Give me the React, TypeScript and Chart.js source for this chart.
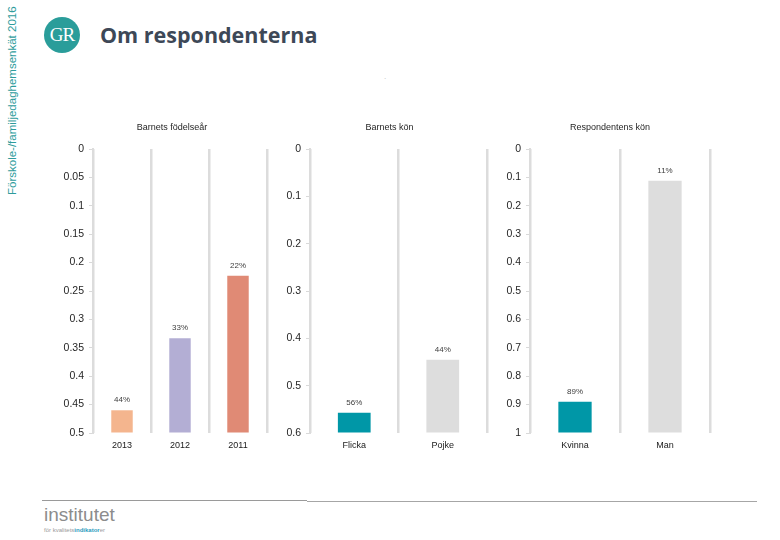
import React, { useEffect, useRef } from "react";
import { Chart, registerables } from "chart.js";

Chart.register(...registerables);

// ---- Data ----
const birthYearCategories = ["2013", "2012", "2011"];
const birthYearValues = [0.46, 0.333, 0.223];
const birthYearLabels = ["44%", "33%", "22%"];
const birthYearColors = ["#F4B58E", "#B3AED4", "#E08A75"];
const birthYearAxis = [0, 0.5, 0.05]; // min, max, step

const childGenderCategories = ["Flicka", "Pojke"];
const childGenderValues = [0.557, 0.445];
const childGenderLabels = ["56%", "44%"];
const childGenderColors = ["#0097A7", "#DDDDDD"];
const childGenderAxis = [0, 0.6, 0.1];

const respGenderCategories = ["Kvinna", "Man"];
const respGenderValues = [0.89, 0.112];
const respGenderLabels = ["89%", "11%"];
const respGenderColors = ["#0097A7", "#DDDDDD"];
const respGenderAxis = [0, 1, 0.1];

const FONT = "'Liberation Sans', Arial, sans-serif";

type PanelProps = {
  title: string;
  categories: string[];
  values: number[];
  labels: string[];
  colors: string[];
  axis: number[];
  left: number;
  top: number;
  width: number;
  height: number;
  axisWidth: number;
  padRight: number;
  titleShift: number;
};

const CHART_TOP = 41;
const CHART_BOTTOM = 325;

function Panel(p: PanelProps) {
  const ref = useRef<HTMLCanvasElement | null>(null);
  useEffect(() => {
    if (!ref.current) return;
    const [min, max, step] = p.axis;
    const labelPlugin = {
      id: "barLabels",
      afterDatasetsDraw(chart: any) {
        const ctx = chart.ctx;
        const meta = chart.getDatasetMeta(0);
        ctx.save();
        ctx.font = `8px ${FONT}`;
        ctx.fillStyle = "#404040";
        ctx.textAlign = "center";
        ctx.textBaseline = "bottom";
        meta.data.forEach((el: any, i: number) => {
          const topY = Math.min(el.y, el.base);
          ctx.fillText(p.labels[i], el.x, topY - 6);
        });
        ctx.restore();
      },
    };
    const titlePlugin = {
      id: "panelTitle",
      afterDraw(chart: any) {
        const ctx = chart.ctx;
        const a = chart.chartArea;
        ctx.save();
        ctx.font = `9px ${FONT}`;
        ctx.fillStyle = "#262626";
        ctx.textAlign = "center";
        ctx.textBaseline = "middle";
        ctx.fillText(p.title, (a.left + a.right) / 2 + p.titleShift, 20);
        ctx.restore();
      },
    };
    const chart = new Chart(ref.current, {
      type: "bar",
      data: {
        labels: p.categories,
        datasets: [
          {
            data: p.values,
            backgroundColor: p.colors,
            base: max,
            barPercentage: 0.37,
            categoryPercentage: 1,
          } as any,
        ],
      },
      options: {
        animation: false,
        responsive: false,
        devicePixelRatio: 1,
        layout: { padding: { top: CHART_TOP, right: p.padRight, left: 0, bottom: 0 } },
        plugins: {
          legend: { display: false },
          tooltip: { enabled: false },
          title: { display: false },
        },
        scales: {
          x: {
            grid: {
              display: true,
              offset: true,
              drawTicks: false,
              color: "#DCDCDC",
              lineWidth: 2.5,
            },
            border: { display: false },
            ticks: {
              padding: 7,
              color: "#1A1A1A",
              font: { size: 9, family: FONT },
              maxRotation: 0,
            },
            afterFit: (s: any) => {
              s.height = p.height - CHART_BOTTOM;
            },
          },
          y: {
            reverse: true,
            min,
            max,
            ticks: {
              stepSize: step,
              padding: 5,
              color: "#262626",
              font: { size: 10.5, family: FONT },
              callback: (v: any) => String(Number(Number(v).toFixed(2))),
            },
            grid: {
              drawOnChartArea: false,
              drawTicks: true,
              tickLength: 4,
              color: "#D9D9D9",
              lineWidth: 1,
            },
            border: { display: true, color: "#DCDCDC", width: 2 },
            afterFit: (s: any) => {
              s.width = p.axisWidth;
            },
          },
        },
      },
      plugins: [labelPlugin, titlePlugin],
    } as any);
    return () => chart.destroy();
  }, []);
  return (
    <canvas
      ref={ref}
      width={p.width}
      height={p.height}
      style={{ position: "absolute", left: p.left, top: p.top, width: p.width, height: p.height }}
    />
  );
}

export default function App() {
  return (
    <div
      style={{
        position: "absolute",
        left: 0,
        top: 0,
        width: 780,
        height: 540,
        background: "#FFFFFF",
        overflow: "hidden",
        fontFamily: FONT,
      }}
    >
      {/* rotated side text */}
      <div
        style={{
          position: "absolute",
          left: 5,
          top: 195,
          transform: "rotate(-90deg)",
          transformOrigin: "left top",
          whiteSpace: "nowrap",
          fontSize: 11.5,
          lineHeight: "14px",
          color: "#2E9C9C",
          fontFamily: FONT,
        }}
      >
        Förskole-/familjedaghemsenkät 2016
      </div>
      {/* logo */}
      <div
        style={{
          position: "absolute",
          left: 44,
          top: 17,
          width: 36,
          height: 36,
          borderRadius: 18,
          background: "#2A9D9A",
          color: "#FFFFFF",
          fontFamily: "'Liberation Serif', serif",
          fontSize: 19,
          lineHeight: "36px",
          textAlign: "center",
          letterSpacing: -1,
        }}
      >
        GR
      </div>
      <div
        style={{
          position: "absolute",
          left: 100,
          top: 20,
          fontFamily: "'Open Sans', sans-serif",
          fontWeight: 700,
          fontSize: 21.5,
          lineHeight: "30px",
          color: "#3D4857",
          whiteSpace: "nowrap",
        }}
      >
        Om respondenterna
      </div>
      <div style={{ position: "absolute", left: 384, top: 72, fontSize: 8, color: "#BBBBBB" }}>.</div>

      <Panel
        title="Barnets födelseår"
        categories={birthYearCategories}
        values={birthYearValues}
        labels={birthYearLabels}
        colors={birthYearColors}
        axis={birthYearAxis}
        left={30}
        top={108}
        width={245}
        height={350}
        axisWidth={63}
        padRight={8}
        titleShift={-8}
      />
      <Panel
        title="Barnets kön"
        categories={childGenderCategories}
        values={childGenderValues}
        labels={childGenderLabels}
        colors={childGenderColors}
        axis={childGenderAxis}
        left={268}
        top={108}
        width={230}
        height={350}
        axisWidth={42}
        padRight={11}
        titleShift={-9}
      />
      <Panel
        title="Respondentens kön"
        categories={respGenderCategories}
        values={respGenderValues}
        labels={respGenderLabels}
        colors={respGenderColors}
        axis={respGenderAxis}
        left={490}
        top={108}
        width={240}
        height={350}
        axisWidth={40}
        padRight={20}
        titleShift={-10}
      />

      {/* footer */}
      <div style={{ position: "absolute", left: 42, top: 500, width: 265, height: 1, background: "#9A9A9A" }} />
      <div style={{ position: "absolute", left: 307, top: 501, width: 450, height: 1, background: "#A6A6A6" }} />
      <div
        style={{
          position: "absolute",
          left: 44,
          top: 504,
          fontSize: 19,
          lineHeight: "22px",
          color: "#8C8C8C",
          fontFamily: FONT,
        }}
      >
        institutet
      </div>
      <div
        style={{
          position: "absolute",
          left: 44,
          top: 526,
          fontSize: 6,
          lineHeight: "8px",
          color: "#9A9A9A",
          whiteSpace: "nowrap",
          fontFamily: FONT,
        }}
      >
        för kvalitets<span style={{ color: "#2E9CC0", fontWeight: 700 }}>indikator</span>er
      </div>
    </div>
  );
}
